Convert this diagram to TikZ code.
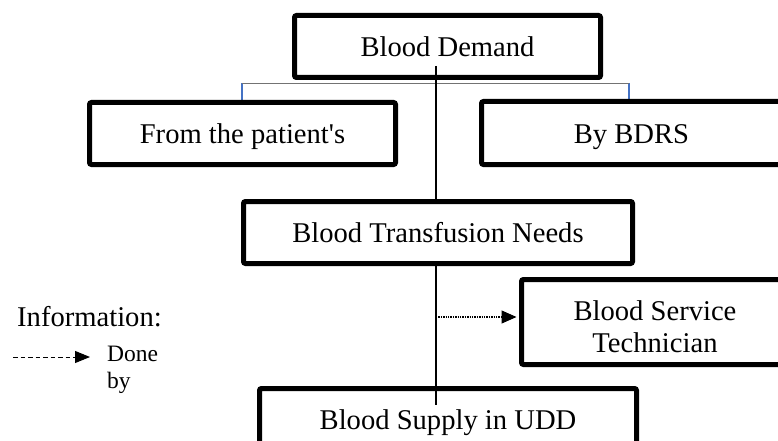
\documentclass[tikz,border=0pt]{standalone}
\usepackage{fontspec}
\setmainfont{Liberation Serif}
\usetikzlibrary{arrows.meta}
\definecolor{tickblue}{RGB}{68,114,196}
\newcommand{\straightq}{{\XeTeXglyph\XeTeXcharglyph"0027\relax}}
\begin{document}
\begin{tikzpicture}[x=1pt,y=-1pt,
  box/.style={draw=black,line width=5pt,rounded corners=2pt,inner sep=0pt,
    font=\fontsize{28.6}{32}\selectfont,text height=20pt,text depth=0pt},
  whitebox/.style={box,fill=white},
  trunk/.style={draw=black,line width=1.2pt},
  bracket/.style={draw=black!55,line width=0.9pt},
  tick/.style={draw=tickblue,line width=1.2pt},
  doneby/.style={draw=black,line width=1.1pt,dash pattern=on 1.3pt off 1.1pt,
    -{Triangle[length=15pt,width=13pt]},shorten >=2.5pt},
  legendline/.style={draw=black,line width=1pt,dash pattern=on 4.5pt off 3pt,
    -{Triangle[length=15pt,width=12pt]}},
  legendtxt/.style={inner sep=0pt,align=left}]
\useasboundingbox (0,0) rectangle (778,441);
\clip (0,0) rectangle (778,441);

% bracket under Blood Demand
\coordinate (bl) at (242,83);
\coordinate (br) at (629,83);
\coordinate (blb) at (242,101);
\coordinate (brb) at (629,101);
\draw[tick] (bl) -- (blb);
\draw[tick] (br) -- (brb);
\draw[bracket] (bl) -- (br);

% upper boxes
\node[box,minimum width=306pt,minimum height=62pt] (demand) at (447.5,46.5) {Blood Demand};
\node[box,minimum width=306pt,minimum height=62pt] (patient) at (242.5,133.5) {From the patient\straightq s};
\node[box,minimum width=300pt,minimum height=63pt] (bdrs) at (631.5,133) {By BDRS};

% main vertical line
\coordinate (vt) at (436,66);
\coordinate (vb) at (436,405);
\draw[trunk] (vt) -- (vb);

\node[whitebox,minimum width=389pt,minimum height=62pt] (needs) at (438,232.5) {Blood Transfusion Needs};
\node[box,minimum width=267pt,minimum height=85pt,align=center,
  text height=60pt,text depth=0pt] (tech) at (655,322) {Blood Service\\Technician};
\node[box,minimum width=377pt,minimum height=72pt,text depth=10pt] (supply) at (448,424.5) {Blood Supply in UDD};

% done-by arrow
\coordinate (ds) at (436,317);
\draw[doneby] (ds) -- (ds -| tech.west);

% legend
\node[inner sep=0pt,anchor=base west,font=\fontsize{28.6}{32}\selectfont] (info) at (17,326) {Information:};
\node[legendtxt,anchor=north west,font=\fontsize{23.5}{27}\selectfont] (done) at (107,346) {Done\\by};
\coordinate (ls) at (13,357);
\coordinate (le) at (90,357);
\draw[legendline] (ls) -- (le);
\end{tikzpicture}
\end{document}
